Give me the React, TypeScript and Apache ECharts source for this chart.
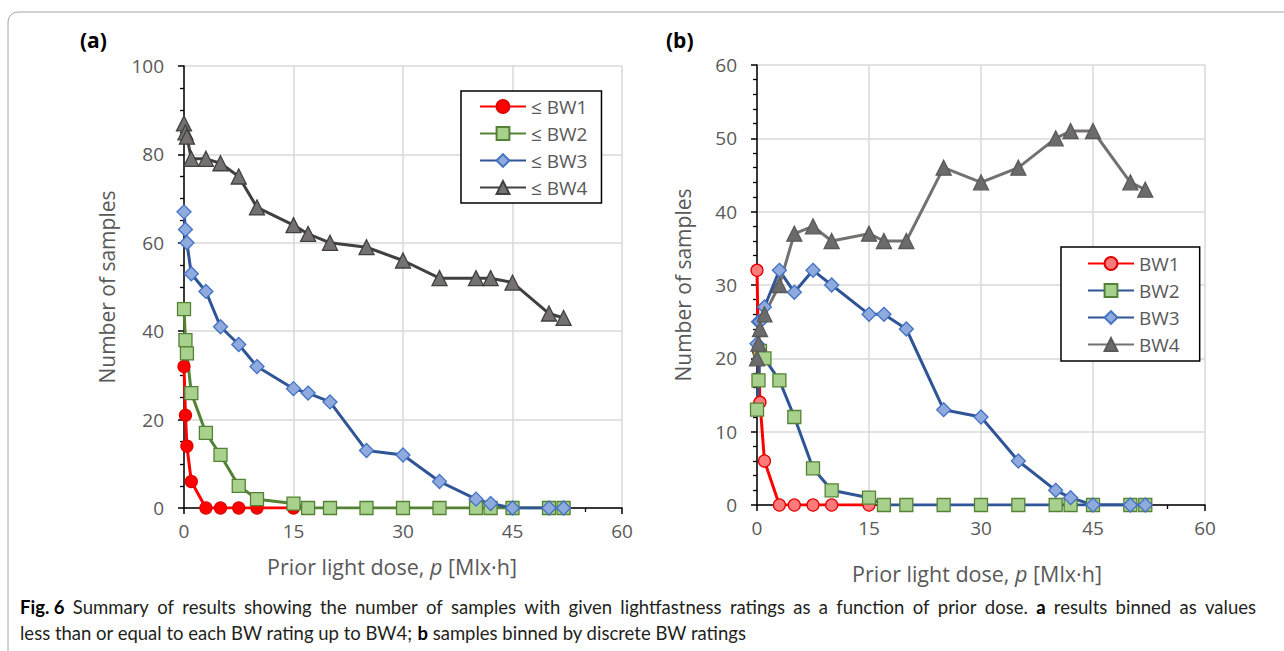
import React, { useEffect, useRef } from "react";
import * as echarts from "echarts";

// Prior light dose (Mlx·h) at which samples were evaluated
const dose = [0, 0.2, 0.4, 1, 3, 5, 7.5, 10, 15, 17, 20, 25, 30, 35, 40, 42, 45, 50, 52];

// (a) cumulative: number of samples <= BWn
const cumBW1 = [32, 21, 14, 6, 0, 0, 0, 0, 0];
const cumBW2 = [45, 38, 35, 26, 17, 12, 5, 2, 1, 0, 0, 0, 0, 0, 0, 0, 0, 0, 0];
const cumBW3 = [67, 63, 60, 53, 49, 41, 37, 32, 27, 26, 24, 13, 12, 6, 2, 1, 0, 0, 0];
const cumBW4 = [87, 85, 84, 79, 79, 78, 75, 68, 64, 62, 60, 59, 56, 52, 52, 52, 51, 44, 43];

// (b) discrete: number of samples = BWn
const binBW1 = [32, 21, 14, 6, 0, 0, 0, 0, 0];
const binBW2 = [13, 17, 21, 20, 17, 12, 5, 2, 1, 0, 0, 0, 0, 0, 0, 0, 0, 0, 0];
const binBW3 = [22, 25, 25, 27, 32, 29, 32, 30, 26, 26, 24, 13, 12, 6, 2, 1, 0, 0, 0];
const binBW4 = [20, 22, 24, 26, 30, 37, 38, 36, 37, 36, 36, 46, 44, 46, 50, 51, 51, 44, 43];

const namesA = ["≤ BW1", "≤ BW2", "≤ BW3", "≤ BW4"];
const namesB = ["BW1", "BW2", "BW3", "BW4"];

const xTicks = [0, 60, 15];
const yTicksA = [0, 100, 20];
const yTicksB = [0, 60, 10];

// caption (line 1 is justified, bold words marked with *)
const captionLine1 =
  "*Fig. 6* Summary of results showing the number of samples with given lightfastness ratings as a function of prior dose. *a* results binned as values";
const captionLine2 = "less than or equal to each BW rating up to BW4; {b|b} samples binned by discrete BW ratings";

const FONT = "'Open Sans', 'Noto Sans', sans-serif";
const CAP_FONT = "Lato, 'Noto Sans', sans-serif";
const CAP_SIZE = 18.5;
const GREY_TXT = "#595959";

function pts(vals: number[]) {
  return vals.map((v, i) => [dose[i], v]);
}

function justifiedLine(src: string, x0: number, width: number, y: number) {
  // tokens: bold segments wrapped in *...*
  const tokens: { t: string; b: boolean }[] = [];
  const re = /\*([^*]+)\*|(\S+)/g;
  let m: RegExpExecArray | null;
  while ((m = re.exec(src))) {
    if (m[1]) tokens.push({ t: m[1], b: true });
    else tokens.push({ t: m[2], b: false });
  }
  const ctx = document.createElement("canvas").getContext("2d")!;
  const w = tokens.map((tk) => {
    ctx.font = `${tk.b ? "bold " : ""}${CAP_SIZE}px Lato`;
    return ctx.measureText(tk.t).width;
  });
  const total = w.reduce((a, b) => a + b, 0);
  const gap = (width - total) / (tokens.length - 1);
  let x = x0;
  return tokens.map((tk, i) => {
    const el = {
      type: "text",
      x,
      y,
      style: {
        text: tk.t,
        fontSize: CAP_SIZE,
        fontFamily: CAP_FONT,
        fontWeight: tk.b ? "bold" : "normal",
        fill: tk.b ? "#000" : "#231f20",
        verticalAlign: "middle",
      },
    };
    x += w[i] + gap;
    return el;
  });
}

export default function App() {
  const ref = useRef<HTMLDivElement>(null);
  useEffect(() => {
    document.body.style.margin = "0";
    const chart = echarts.init(ref.current!, undefined, { renderer: "svg" });

    const xAxisBase = (gridIndex: number, nameGap: number, namePad: number[]) => ({
      gridIndex,
      type: "value",
      min: xTicks[0],
      max: xTicks[1],
      interval: xTicks[2],
      axisLine: { show: true, onZero: false, lineStyle: { color: "#000", width: 1.5 } },
      axisTick: { show: true, length: 6, lineStyle: { color: "#000", width: 1.5 } },
      minorTick: { show: true, splitNumber: 3, length: 4, lineStyle: { color: "#000", width: 1.3 } },
      splitLine: { show: true, lineStyle: { color: "#d9d9d9", width: 1.5 } },
      axisLabel: { color: GREY_TXT, fontSize: 19, fontFamily: FONT, margin: 13 },
      name: "Prior light dose, {i|p} [Mlx·h]",
      nameLocation: "middle",
      nameGap,
      nameTextStyle: {
        color: GREY_TXT,
        fontSize: 21.5,
        fontFamily: FONT,
        padding: namePad,
        rich: { i: { fontStyle: "italic", color: GREY_TXT, fontSize: 21.5, fontFamily: FONT } },
      },
    });
    const yAxisBase = (gridIndex: number, t: number[], minorSplit: number, nameGap: number) => ({
      gridIndex,
      type: "value",
      min: t[0],
      max: t[1],
      interval: t[2],
      axisLine: { show: true, lineStyle: { color: "#000", width: 1.5 } },
      axisTick: { show: true, length: 6, lineStyle: { color: "#000", width: 1.5 } },
      minorTick: { show: true, splitNumber: minorSplit, length: 4, lineStyle: { color: "#000", width: 1.3 } },
      splitLine: { show: true, lineStyle: { color: "#d9d9d9", width: 1.5 } },
      axisLabel: { color: GREY_TXT, fontSize: 19, fontFamily: FONT, margin: 20 },
      name: "Number of samples",
      nameLocation: "middle",
      nameGap,
      nameTextStyle: { color: GREY_TXT, fontSize: 21, fontFamily: FONT },
    });

    const mk = (
      name: string,
      vals: number[],
      idx: number,
      lineColor: string,
      symbol: string,
      size: number,
      fill: string,
      border: string
    ) => ({
      name,
      type: "line",
      xAxisIndex: idx,
      yAxisIndex: idx,
      data: pts(vals),
      symbol,
      symbolSize: size,
      showAllSymbol: true,
      lineStyle: { color: lineColor, width: 3 },
      itemStyle: { color: fill, borderColor: border, borderWidth: 1.3, opacity: 1 },
      emphasis: { disabled: true },
    });

    const series = [
      mk(namesA[0], cumBW1, 0, "#ff0000", "circle", 12, "#ff0000", "#e00000"),
      mk(namesA[1], cumBW2, 0, "#548235", "rect", 13, "#a9d18e", "#548235"),
      mk(namesA[2], cumBW3, 0, "#2f5597", "diamond", 14, "#8faadc", "#4472c4"),
      mk(namesA[3], cumBW4, 0, "#404040", "triangle", 15, "#767171", "#404040"),
      mk(namesB[0], binBW1, 1, "#ff0000", "circle", 12, "#ff7b7b", "#e00000"),
      mk(namesB[1], binBW2, 1, "#2f5597", "rect", 13, "#a9d18e", "#548235"),
      mk(namesB[2], binBW3, 1, "#2f5597", "diamond", 14, "#8faadc", "#4472c4"),
      mk(namesB[3], binBW4, 1, "#767171", "triangle", 15, "#6b6b6b", "#595959"),
    ];

    const legendBase = {
      orient: "vertical",
      itemWidth: 46,
      itemHeight: 16,
      itemGap: 8,
      borderColor: "#000",
      borderWidth: 1.5,
      borderRadius: 0,
      backgroundColor: "#fff",
      selectedMode: false,
      textStyle: { color: GREY_TXT, fontSize: 19, fontFamily: FONT, padding: [0, 0, 0, 0] },
      itemStyle: {},
    };

    chart.setOption({
      animation: false,
      backgroundColor: "#fff",
      grid: [
        { left: 184, top: 66, width: 438, height: 442 },
        { left: 757, top: 65, width: 448, height: 440 },
      ],
      xAxis: [xAxisBase(0, 47, [0, 22, 0, 0]), xAxisBase(1, 57, [0, 8, 0, 0])],
      yAxis: [yAxisBase(0, yTicksA, 4, 67), yAxisBase(1, yTicksB, 5, 64)],
      legend: [
        { ...legendBase, data: namesA, left: 461, top: 91, padding: [6, 14, 6, 18] },
        { ...legendBase, data: namesB, left: 1061, top: 247, padding: [7, 20, 7, 26] },
      ],
      series,
      graphic: [
        {
          type: "rect",
          shape: { x: 8, y: 12, width: 1300, height: 680, r: 10 },
          style: { fill: "none", stroke: "#a6a6a6", lineWidth: 1 },
          silent: true,
          z: -10,
        },
        {
          type: "text",
          x: 80,
          y: 40,
          style: { text: "(a)", fontSize: 21, fontWeight: "bold", fontFamily: FONT, fill: "#000", verticalAlign: "middle" },
        },
        {
          type: "text",
          x: 666,
          y: 40,
          style: { text: "(b)", fontSize: 21, fontWeight: "bold", fontFamily: FONT, fill: "#000", verticalAlign: "middle" },
        },
        { type: "group", children: justifiedLine(captionLine1, 20, 1236, 607) },
        {
          type: "text",
          x: 20,
          y: 633,
          style: {
            text: captionLine2,
            fontSize: CAP_SIZE,
            fontFamily: CAP_FONT,
            fill: "#231f20",
            verticalAlign: "middle",
            rich: { b: { fontWeight: "bold", fontSize: CAP_SIZE, fontFamily: CAP_FONT, fill: "#000" } },
          },
        },
      ],
    });
    return () => chart.dispose();
  }, []);
  return (
    <div
      ref={ref}
      style={{ position: "fixed", left: 0, top: 0, width: 1284, height: 651 }}
    />
  );
}
